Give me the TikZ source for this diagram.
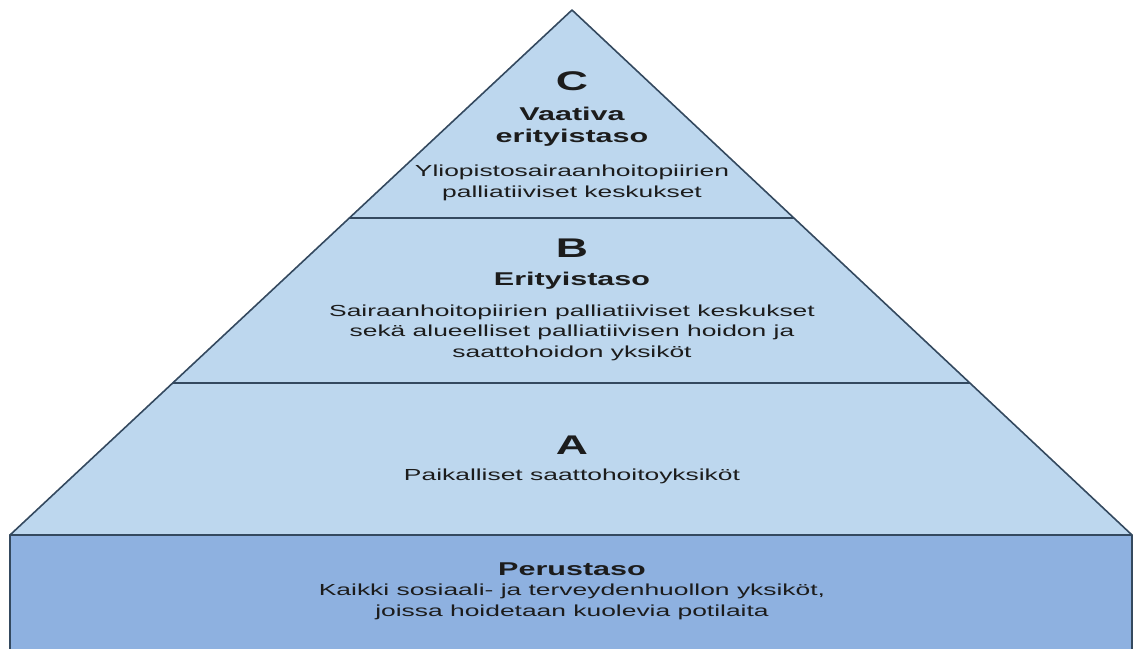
\documentclass[tikz,border=0pt]{standalone}
\usepackage{fontspec}
\setmainfont{Liberation Sans}[FakeStretch=1.65]
\usetikzlibrary{calc}
\definecolor{Edge}{HTML}{34495F}
\definecolor{Pale}{HTML}{BDD7EE}
\definecolor{Deep}{HTML}{8EB1E0}
\definecolor{Ink}{HTML}{1C1C1C}
\tikzset{tier/.style={draw=Edge,line width=1.6pt,line join=round},letter/.style={font=\fontsize{27}{27}\selectfont\bfseries,text=Ink,inner sep=0pt,anchor=base},head/.style={font=\fontsize{18.5}{22}\selectfont\bfseries,text=Ink,align=center,inner sep=0pt,anchor=base},body/.style={font=\fontsize{16}{20.5}\selectfont,text=Ink,align=center,inner sep=0pt,anchor=base}}

\begin{document}
\begin{tikzpicture}[x=1pt,y=-1pt]
\useasboundingbox (0,0) rectangle (1134,648);
\coordinate (top) at (572,10);\coordinate (bl) at (10,535);\coordinate (br) at (1132,535);
\draw[tier,fill=Pale] (top) -- (bl) -- (br) -- cycle;
\draw[tier,line width=1.3pt] ($(top)!.396!(bl)$) -- ($(top)!.396!(br)$);
\draw[tier,line width=1.3pt] ($(top)!.7105!(bl)$) -- ($(top)!.7105!(br)$);
\draw[tier,fill=Deep] (bl) rectangle (1132,660);
% C (multi-line nodes sit on their last baseline)
\node[letter] (c) at (572,90) {C};
\node[head] (chead) at (572,142) {Vaativa\\erityistaso};
\node[body] (ctext) at (572,197) {Yliopistosairaanhoitopiirien\\palliatiiviset keskukset};
% B
\node[letter] (b) at (572,257) {B};
\node[head] (bhead) at (572,285) {Erityistaso};
\node[body] (btext) at (572,357) {Sairaanhoitopiirien palliatiiviset keskukset\\sekä alueelliset palliatiivisen hoidon ja\\saattohoidon yksiköt};
% A
\node[letter] (a) at (572,454) {A};
\node[body] (atext) at (572,480) {Paikalliset saattohoitoyksiköt};
% perustaso
\node[head] (phead) at (572,575) {Perustaso};
\node[body] (ptext) at (572,616) {Kaikki sosiaali- ja terveydenhuollon yksiköt,\\joissa hoidetaan kuolevia potilaita};
\end{tikzpicture}
\end{document}
